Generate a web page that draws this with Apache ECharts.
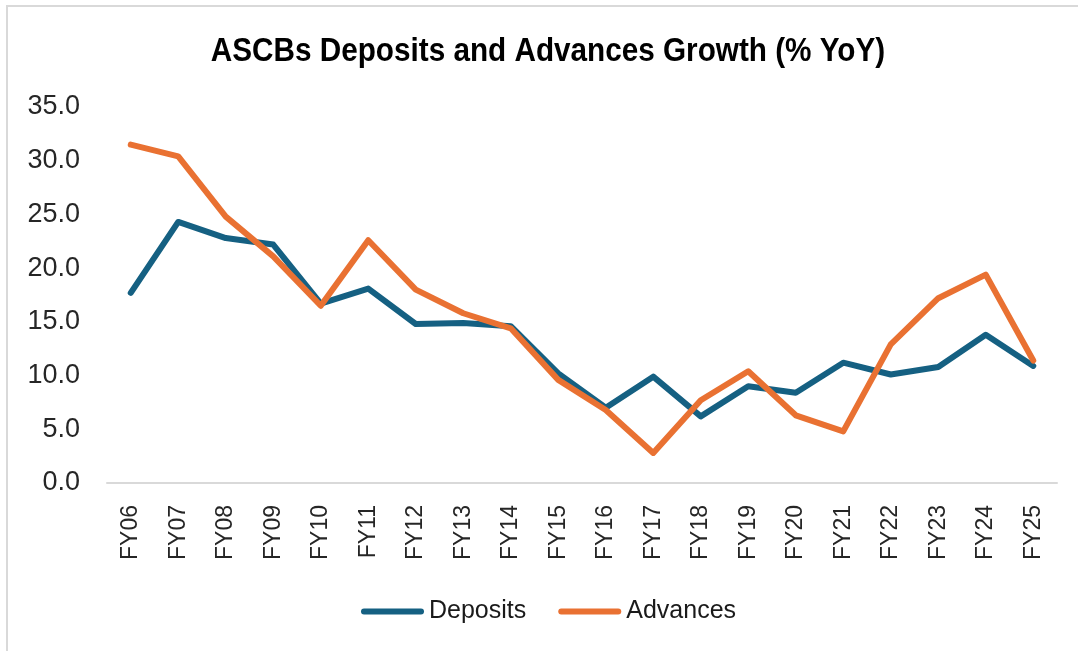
<!DOCTYPE html>
<html>
<head>
<meta charset="utf-8">
<title>ASCBs Deposits and Advances Growth</title>
<script src="https://cdn.jsdelivr.net/npm/echarts@6/dist/echarts.min.js"></script>
<style>
  html, body { margin: 0; padding: 0; background: #ffffff; }
  #chart { width: 1078px; height: 651px; }
</style>
</head>
<body>
<div id="chart"></div>
<script>
// Fiscal years on the category axis
const years = ['FY06', 'FY07', 'FY08', 'FY09', 'FY10', 'FY11', 'FY12', 'FY13', 'FY14', 'FY15',
               'FY16', 'FY17', 'FY18', 'FY19', 'FY20', 'FY21', 'FY22', 'FY23', 'FY24', 'FY25'];

// Year-on-year growth, per cent
const deposits = [17.7, 24.3, 22.8, 22.2, 16.7, 18.1, 14.8, 14.9, 14.6, 10.2,
                  7.0, 9.9, 6.2, 9.0, 8.4, 11.2, 10.1, 10.8, 13.8, 10.9];
const advances = [31.5, 30.4, 24.8, 21.1, 16.5, 22.6, 18.0, 15.8, 14.4, 9.6,
                  6.8, 2.8, 7.7, 10.4, 6.3, 4.8, 12.9, 17.2, 19.4, 11.4];

const seriesNames = ['Deposits', 'Advances'];
const seriesColors = ['#156082', '#E97132'];
const titleText = 'ASCBs Deposits and Advances Growth (% YoY)';

const chart = echarts.init(document.getElementById('chart'), null, { renderer: 'canvas' });

const pillIcon = 'path://M3,0 H60 A3,3 0 0 1 60,6 H3 A3,3 0 0 1 3,0 Z';

chart.setOption({
  backgroundColor: '#ffffff',
  animation: false,
  legend: {
    data: seriesNames.map((n, i) => ({ name: n, icon: pillIcon, itemStyle: { color: seriesColors[i] } })),
    left: 356,
    top: 594,
    itemWidth: 63,
    itemHeight: 6,
    itemGap: 32,
    textStyle: {
      fontFamily: '"Liberation Sans", Arial, sans-serif',
      fontSize: 25,
      color: '#1a1a1a'
    }
  },
  grid: {
    left: 107,
    right: 21,
    top: 107,
    bottom: 168,
    containLabel: false
  },
  xAxis: {
    type: 'category',
    data: years,
    boundaryGap: true,
    axisLine: { show: true, lineStyle: { color: '#d9d9d9', width: 2 } },
    axisTick: { show: false },
    axisLabel: {
      rotate: 90,
      interval: 0,
      margin: 22,
      fontFamily: '"Liberation Sans", Arial, sans-serif',
      fontSize: 23,
      color: '#262626'
    }
  },
  yAxis: {
    type: 'value',
    min: 0,
    max: 35,
    interval: 5,
    axisLine: { show: false },
    axisTick: { show: false },
    splitLine: { show: false },
    axisLabel: {
      margin: 27,
      fontFamily: '"Liberation Sans", Arial, sans-serif',
      fontSize: 27,
      color: '#262626',
      formatter: v => v.toFixed(1)
    }
  },
  series: [
    {
      name: seriesNames[0],
      type: 'line',
      data: deposits,
      symbol: 'none',
      lineStyle: { color: seriesColors[0], width: 6, cap: 'round', join: 'round' },
      itemStyle: { color: seriesColors[0] },
      z: 2
    },
    {
      name: seriesNames[1],
      type: 'line',
      data: advances,
      symbol: 'none',
      lineStyle: { color: seriesColors[1], width: 6, cap: 'round', join: 'round' },
      itemStyle: { color: seriesColors[1] },
      z: 3
    }
  ],
  graphic: [
    // frame: top and left edges
    { type: 'rect', shape: { x: 6, y: 5, width: 1072, height: 2 }, style: { fill: '#d9d9d9' }, silent: true },
    { type: 'rect', shape: { x: 6, y: 5, width: 2, height: 646 }, style: { fill: '#d9d9d9' }, silent: true },
    // condensed bold heading
    {
      type: 'text',
      x: 548,
      y: 52,
      scaleX: 0.9,
      style: {
        text: titleText,
        textAlign: 'center',
        textVerticalAlign: 'middle',
        font: 'bold 33px "Liberation Sans", Arial, sans-serif',
        fill: '#000000'
      },
      silent: true
    }
  ]
});
</script>
</body>
</html>
